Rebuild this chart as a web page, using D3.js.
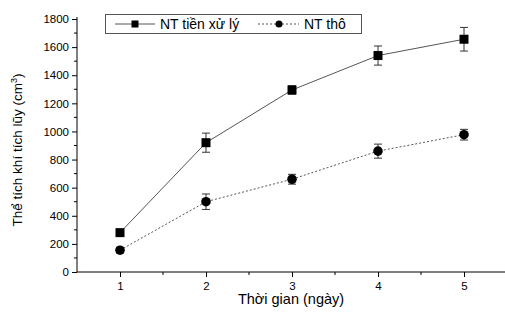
<!DOCTYPE html>
<html><head><meta charset="utf-8">
<script src="https://cdn.jsdelivr.net/npm/d3@7/dist/d3.min.js"></script>
<style>body{margin:0;background:#fff}svg{display:block;font-family:"Liberation Sans",Arial,sans-serif}</style>
</head><body>
<svg id="c" width="505" height="321"></svg>
<script>
const days = [1, 2, 3, 4, 5];
const seriesNames = ["NT tiền xử lý", "NT thô"];
const treated = [280, 920, 1295, 1540, 1656];
const treatedErr = [10, 68, 30, 68, 84];
const raw = [155, 500, 660, 860, 977];
const rawErr = [20, 55, 35, 50, 38];
const yTicks = [0, 200, 400, 600, 800, 1000, 1200, 1400, 1600, 1800];
const xTicks = [1, 2, 3, 4, 5];

const svg = d3.select("#c");
const x = d3.scaleLinear().domain([0.5, 5.5]).range([77, 507]);
const y = d3.scaleLinear().domain([0, 1800]).range([272, 19]);

// minor ticks
const g = svg.append("g");
g.selectAll(".ym").data(d3.range(100, 1800, 200)).enter().append("line")
  .attr("x1", 74).attr("x2", 77).attr("y1", d => y(d)).attr("y2", d => y(d)).attr("stroke", "#000");
g.selectAll(".xm").data([1.5, 2.5, 3.5, 4.5]).enter().append("line")
  .attr("x1", d => x(d)).attr("x2", d => x(d)).attr("y1", 272).attr("y2", 275).attr("stroke", "#000");

const yAxis = svg.append("g").attr("transform", "translate(77,0)")
  .call(d3.axisLeft(y).tickValues(yTicks).tickSize(5).tickPadding(3).tickFormat(d3.format("d")));
yAxis.select(".domain").attr("d", "M0,17V272");
yAxis.selectAll("text").attr("font-size", 11.5).attr("font-family", "Liberation Sans, Arial").attr("fill", "#000");

const xAxis = svg.append("g").attr("transform", "translate(0,272)")
  .call(d3.axisBottom(x).tickValues(xTicks).tickSize(5).tickPadding(5).tickFormat(d3.format("d")));
xAxis.select(".domain").attr("d", "M77,0H505");
xAxis.selectAll("text").attr("font-size", 11.5).attr("font-family", "Liberation Sans, Arial").attr("fill", "#000");

// axis titles
svg.append("text").attr("x", 291).attr("y", 304).attr("text-anchor", "middle")
  .attr("font-size", 14.5).text("Thời gian (ngày)");
const yt = svg.append("text").attr("transform", "translate(22,150) rotate(-90)")
  .attr("text-anchor", "middle").attr("font-size", 13.5);
yt.append("tspan").text("Thể tích khí tích lũy (cm");
yt.append("tspan").attr("font-size", 9).attr("dy", -5).text("3");
yt.append("tspan").attr("dy", 5).text(")");

const line = d3.line().x((d, i) => x(days[i])).y(d => y(d));

function drawSeries(vals, errs, dash, shape) {
  svg.append("path").datum(vals).attr("d", line).attr("fill", "none")
    .attr("stroke", "#555").attr("stroke-width", 1).attr("stroke-dasharray", dash);
  const eg = svg.append("g").attr("stroke", "#333").attr("stroke-width", 1);
  vals.forEach((v, i) => {
    const cx = x(days[i]), t = y(v + errs[i]), b = y(v - errs[i]);
    eg.append("line").attr("x1", cx).attr("x2", cx).attr("y1", t).attr("y2", b);
    eg.append("line").attr("x1", cx - 4).attr("x2", cx + 4).attr("y1", t).attr("y2", t);
    eg.append("line").attr("x1", cx - 4).attr("x2", cx + 4).attr("y1", b).attr("y2", b);
  });
  vals.forEach((v, i) => {
    const cx = x(days[i]), cy = y(v);
    if (shape === "square") svg.append("rect").attr("x", cx - 4.5).attr("y", cy - 4.5).attr("width", 9).attr("height", 9).attr("fill", "#000");
    else svg.append("circle").attr("cx", cx).attr("cy", cy).attr("r", 4.8).attr("fill", "#000");
  });
}
drawSeries(treated, treatedErr, null, "square");
drawSeries(raw, rawErr, "2,2", "circle");

// legend
const lg = svg.append("g");
lg.append("rect").attr("x", 105.5).attr("y", 14.5).attr("width", 256).attr("height", 19)
  .attr("fill", "#fff").attr("stroke", "#555");
lg.append("line").attr("x1", 115).attr("x2", 155).attr("y1", 24).attr("y2", 24).attr("stroke", "#555");
lg.append("rect").attr("x", 131.5).attr("y", 20.5).attr("width", 7).attr("height", 7).attr("fill", "#000");
lg.append("text").attr("x", 160).attr("y", 29).attr("font-size", 14).text(seriesNames[0]);
lg.append("line").attr("x1", 258).attr("x2", 299).attr("y1", 24).attr("y2", 24).attr("stroke", "#555").attr("stroke-dasharray", "2,2");
lg.append("circle").attr("cx", 279).attr("cy", 24).attr("r", 3.5).attr("fill", "#000");
lg.append("text").attr("x", 304).attr("y", 29).attr("font-size", 14).text(seriesNames[1]);
</script>
</body></html>
